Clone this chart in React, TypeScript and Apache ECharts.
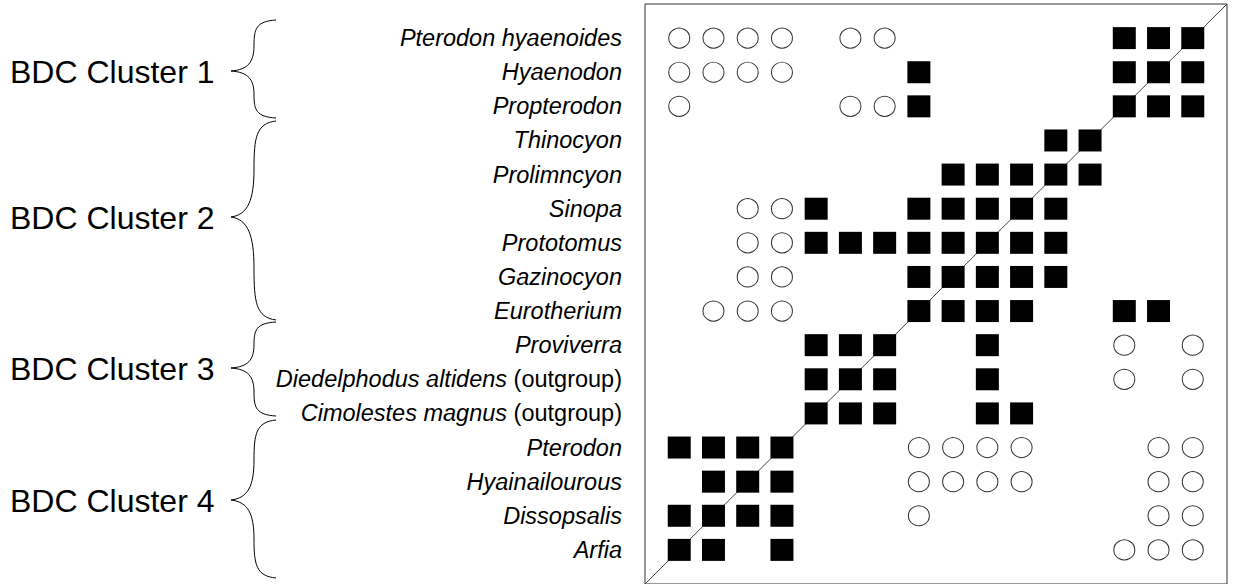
import React, { useEffect, useRef } from "react";
import * as echarts from "echarts";

// Taxa, top to bottom (columns run in the reverse order, left to right)
const taxa = [
  "Pterodon hyaenoides",
  "Hyaenodon",
  "Propterodon",
  "Thinocyon",
  "Prolimncyon",
  "Sinopa",
  "Prototomus",
  "Gazinocyon",
  "Eurotherium",
  "Proviverra",
  "Diedelphodus altidens",
  "Cimolestes magnus",
  "Pterodon",
  "Hyainailourous",
  "Dissopsalis",
  "Arfia",
];
const outgroupTaxa = ["Diedelphodus altidens", "Cimolestes magnus"];

// Filled squares: column indices per row
const squareCols = [
  [13, 14, 15],
  [7, 13, 14, 15],
  [7, 13, 14, 15],
  [11, 12],
  [8, 9, 10, 11, 12],
  [4, 7, 8, 9, 10, 11],
  [4, 5, 6, 7, 8, 9, 10, 11],
  [7, 8, 9, 10, 11],
  [7, 8, 9, 10, 13, 14],
  [4, 5, 6, 9],
  [4, 5, 6, 9],
  [4, 5, 6, 9, 10],
  [0, 1, 2, 3],
  [1, 2, 3],
  [0, 1, 2, 3],
  [0, 1, 3],
];
// Open circles: column indices per row
const circleCols = [
  [0, 1, 2, 3, 5, 6],
  [0, 1, 2, 3],
  [0, 5, 6],
  [],
  [],
  [2, 3],
  [2, 3],
  [2, 3],
  [1, 2, 3],
  [13, 15],
  [13, 15],
  [],
  [7, 8, 9, 10, 14, 15],
  [7, 8, 9, 10, 14, 15],
  [7, 14, 15],
  [13, 14, 15],
];

const clusterNames = ["BDC Cluster 1", "BDC Cluster 2", "BDC Cluster 3", "BDC Cluster 4"];

// Brace layout (pixels)
const braceLayout = [
  { top: 20, tip: 71, bottom: 118 },
  { top: 121, tip: 217, bottom: 320 },
  { top: 322, tip: 368, bottom: 416 },
  { top: 420, tip: 500, bottom: 578 },
];

const FONT = '"Liberation Sans", Arial, Helvetica, sans-serif';
const LABEL_SIZE = 23.5;

function braceElements(top: number, tip: number, bottom: number) {
  const xr = 276;
  const xs = 254;
  const xt = 231;
  const style = { stroke: "#000", lineWidth: 1, fill: null as any };
  const mk = (y0: number, ym: number) => {
    const ya = (y0 + ym) / 2;
    return [
      {
        type: "bezierCurve",
        shape: {
          x1: xr, y1: y0, x2: xs, y2: ya,
          cpx1: xs + 2, cpy1: y0 + (ya - y0) * 0.05,
          cpx2: xs, cpy2: y0 + (ya - y0) * 0.35,
        },
        style,
      },
      {
        type: "bezierCurve",
        shape: {
          x1: xs, y1: ya, x2: xt, y2: ym,
          cpx1: xs, cpy1: ya + (ym - ya) * 0.65,
          cpx2: xs - 6, cpy2: ym - (ym - ya) * 0.05,
        },
        style,
      },
    ];
  };
  return [...mk(top, tip), ...mk(bottom, tip)];
}

export default function App() {
  const ref = useRef<HTMLDivElement>(null);
  useEffect(() => {
    if (!ref.current) return;
    const chart = echarts.init(ref.current, undefined, { renderer: "svg" });

    const squares: number[][] = [];
    squareCols.forEach((cols, r) => cols.forEach((c) => squares.push([c, r])));
    const circles: number[][] = [];
    circleCols.forEach((cols, r) => cols.forEach((c) => circles.push([c, r])));

    const graphics: any[] = [];
    braceLayout.forEach((b, i) => {
      graphics.push(...braceElements(b.top, b.tip, b.bottom));
      graphics.push({
        type: "text",
        x: 10,
        y: b.tip + 1,
        style: {
          text: clusterNames[i],
          font: `32px ${FONT}`,
          fill: "#000",
          textAlign: "left",
          textVerticalAlign: "middle",
          align: "left",
          verticalAlign: "middle",
        },
      });
    });

    chart.setOption({
      animation: false,
      backgroundColor: "#fff",
      grid: {
        show: true,
        left: 645,
        top: 4,
        width: 582,
        height: 580,
        borderColor: "#333",
        borderWidth: 1,
        backgroundColor: "transparent",
      },
      xAxis: {
        type: "value",
        min: -1,
        max: 16,
        interval: 1,
        show: false,
      },
      yAxis: {
        type: "value",
        min: -1,
        max: 16,
        interval: 1,
        inverse: true,
        axisLine: { show: false },
        axisTick: { show: false },
        splitLine: { show: false },
        axisLabel: {
          margin: 23,
          showMinLabel: true,
          showMaxLabel: true,
          formatter: (v: number) => {
            const name = taxa[v];
            if (name === undefined) return "";
            if (outgroupTaxa.includes(name)) return `{i|${name}}{n| (outgroup)}`;
            return `{i|${name}}`;
          },
          rich: {
            i: { fontStyle: "italic", fontSize: LABEL_SIZE, fontFamily: FONT, color: "#000" },
            n: { fontStyle: "normal", fontSize: LABEL_SIZE, fontFamily: FONT, color: "#000" },
          },
        },
      },
      series: [
        {
          type: "line",
          data: [
            [-1, 16],
            [16, -1],
          ],
          symbol: "none",
          lineStyle: { color: "#444", width: 1 },
          silent: true,
          z: 1,
        },
        {
          type: "scatter",
          data: circles,
          symbol: "circle",
          symbolSize: [21, 20],
          itemStyle: { color: "#fff", borderColor: "#333", borderWidth: 1, opacity: 1 },
          silent: true,
          z: 3,
        },
        {
          type: "scatter",
          data: squares,
          symbol: "rect",
          symbolSize: [23, 22],
          itemStyle: { color: "#000", opacity: 1 },
          silent: true,
          z: 3,
        },
      ],
      graphic: graphics,
    });
    return () => chart.dispose();
  }, []);
  return (
    <div
      ref={ref}
      style={{ position: "fixed", left: 0, top: 0, width: 1235, height: 584 }}
    />
  );
}
